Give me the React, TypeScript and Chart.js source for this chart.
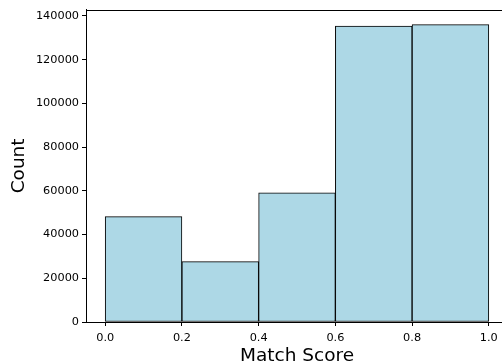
import React, { useEffect, useRef } from "react";
import { Chart, registerables } from "chart.js";

Chart.register(...registerables);

const binCenters = [0.1, 0.3, 0.5, 0.7, 0.9];
const counts = [48200, 27600, 59100, 135400, 136000];
const xTicks = [0.0, 0.2, 0.4, 0.6, 0.8, 1.0];
const yTicks = [0, 20000, 40000, 60000, 80000, 100000, 120000, 140000];

const FONT = "'DejaVu Sans', sans-serif";

const framePlugin = {
  id: "frame",
  afterDraw(chart: any) {
    const { ctx, chartArea } = chart;
    ctx.save();
    ctx.strokeStyle = "#000";
    ctx.lineWidth = 1;
    ctx.strokeRect(
      Math.round(chartArea.left) + 0.5,
      Math.round(chartArea.top) + 0.5,
      Math.round(chartArea.right - chartArea.left),
      Math.round(chartArea.bottom - chartArea.top)
    );
    ctx.restore();
  },
};

export default function App() {
  const ref = useRef<HTMLCanvasElement>(null);
  useEffect(() => {
    document.body.style.margin = "0";
    document.body.style.overflow = "hidden";
    const canvas = ref.current!;
    const chart = new Chart(canvas, {
      type: "bar",
      data: {
        datasets: [
          {
            data: binCenters.map((x, i) => ({ x, y: counts[i] })),
            backgroundColor: "#add8e6",
            borderColor: "#000",
            borderWidth: 1,
            borderSkipped: false,
            barPercentage: 1,
            categoryPercentage: 1,
          } as any,
        ],
      },
      options: {
        animation: false,
        responsive: false,
        layout: { padding: { left: 0, top: 8, right: 4, bottom: 0 } },
        plugins: { legend: { display: false }, tooltip: { enabled: false } },
        scales: {
          x: {
            type: "linear",
            min: -0.05,
            max: 1.05,
            offset: false,
            afterBuildTicks: (s: any) => {
              s.ticks = xTicks.map((v) => ({ value: v }));
            },
            afterFit: (s: any) => {
              s.height = 41;
            },
            ticks: {
              color: "#000",
              font: { family: FONT, size: 11.3 },
              padding: 5,
              callback: (v: any) => Number(v).toFixed(1),
              maxRotation: 0,
            },
            grid: {
              offset: false,
              drawOnChartArea: false,
              drawTicks: true,
              tickLength: 4,
              color: "#000",
            },
            border: { display: true, color: "#000" },
            title: {
              display: true,
              text: "Match Score",
              color: "#000",
              font: { family: FONT, size: 18.5 },
              padding: { top: 3, bottom: -4 },
            },
          },
          y: {
            type: "linear",
            min: 0,
            max: 142800,
            afterBuildTicks: (s: any) => {
              s.ticks = yTicks.map((v) => ({ value: v }));
            },
            afterFit: (s: any) => {
              s.width = 86;
            },
            ticks: {
              color: "#000",
              font: { family: FONT, size: 11.3 },
              padding: 3,
              callback: (v: any) => String(v),
            },
            grid: {
              drawOnChartArea: false,
              drawTicks: true,
              tickLength: 4,
              color: "#000",
            },
            border: { display: true, color: "#000" },
            title: {
              display: true,
              text: "Count",
              color: "#000",
              font: { family: FONT, size: 18.5 },
              padding: { top: 8, bottom: 0 },
            },
          },
        },
      },
      plugins: [framePlugin],
    });
    return () => chart.destroy();
  }, []);
  return (
    <div style={{ position: "fixed", left: 0, top: 0, width: 512, height: 363 }}>
      <canvas ref={ref} width={512} height={363} style={{ display: "block" }} />
    </div>
  );
}
